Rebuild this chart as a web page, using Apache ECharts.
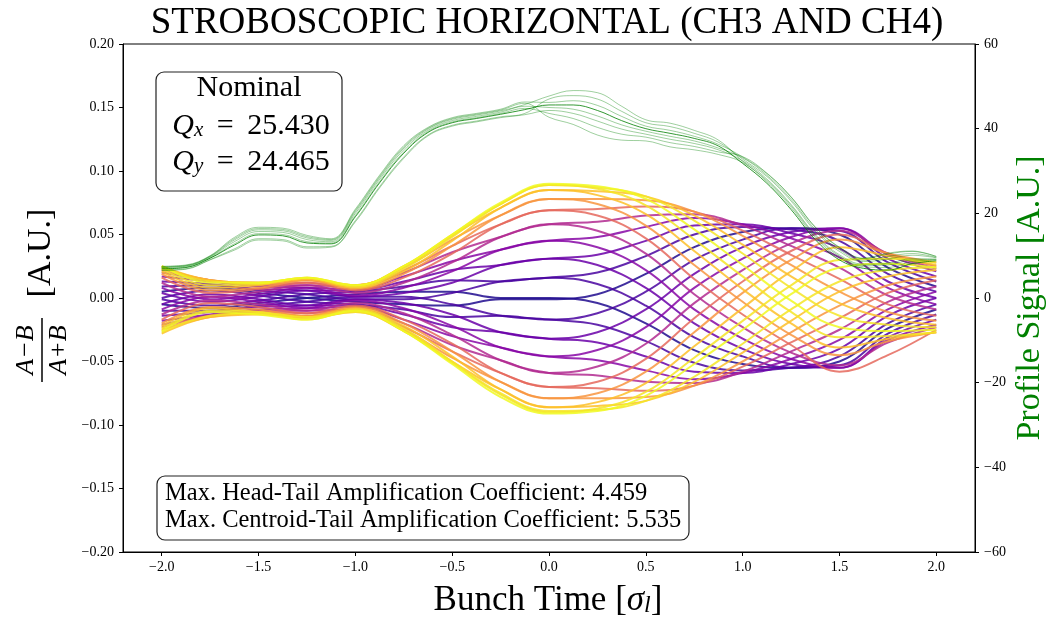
<!DOCTYPE html>
<html><head><meta charset="utf-8">
<script src="https://cdn.jsdelivr.net/npm/echarts@6/dist/echarts.min.js"></script>
<style>html,body{margin:0;padding:0;background:#fff}#c{width:1047px;height:617px}</style>
</head><body><div id="c"></div>
<script>
// ---------- data ----------
const bunchTime = [-2, -1.75, -1.5, -1.25, -1, -0.75, -0.5, -0.25, 0, 0.25, 0.5, 0.75, 1, 1.25, 1.5, 1.75, 2];
const profileTime = [-2,-1.875,-1.75,-1.625,-1.5,-1.375,-1.25,-1.125,-1,-0.875,-0.75,-0.625,-0.5,-0.375,-0.25,-0.125,0,0.125,0.25,0.375,0.5,0.625,0.75,0.875,1,1.125,1.25,1.375,1.5,1.625,1.75,1.875,2];
const xTickValues = [-2, -1.5, -1, -0.5, 0, 0.5, 1, 1.5, 2];
const leftTickRange = [-0.2, 0.2, 0.05];
const rightTickRange = [-60, 60, 20];

// stroboscopic head-tail traces (A-B)/(A+B)
const traces = [
  [-0.005,-0.008,-0.004,0.000,0.003,0.005,0.005,0.000,0.000,-0.004,-0.020,-0.041,-0.052,-0.055,-0.050,-0.024,-0.009],
  [0.005,0.008,0.004,0.000,-0.003,-0.005,-0.006,-0.001,-0.001,0.003,0.019,0.040,0.052,0.055,0.050,0.024,0.009],
  [-0.001,-0.006,-0.002,0.003,0.005,0.009,0.014,0.013,0.016,0.011,-0.006,-0.031,-0.046,-0.055,-0.053,-0.028,-0.013],
  [0.009,0.010,0.006,0.003,-0.001,-0.001,0.004,0.013,0.016,0.020,0.033,0.050,0.056,0.054,0.045,0.019,0.005],
  [0.000,0.006,0.002,-0.003,-0.005,-0.009,-0.015,-0.014,-0.017,-0.012,0.005,0.030,0.046,0.055,0.053,0.028,0.013],
  [-0.010,-0.010,-0.006,-0.003,0.001,0.001,-0.005,-0.014,-0.017,-0.021,-0.034,-0.051,-0.057,-0.055,-0.046,-0.020,-0.005],
  [0.004,-0.003,0.001,0.006,0.006,0.013,0.022,0.026,0.031,0.026,0.008,-0.020,-0.040,-0.052,-0.055,-0.031,-0.017],
  [0.013,0.011,0.007,0.006,0.001,0.004,0.012,0.026,0.031,0.034,0.045,0.057,0.058,0.051,0.039,0.013,0.000],
  [-0.005,0.003,-0.001,-0.006,-0.006,-0.013,-0.023,-0.027,-0.032,-0.027,-0.009,0.019,0.040,0.052,0.055,0.031,0.017],
  [-0.014,-0.011,-0.007,-0.006,-0.001,-0.004,-0.013,-0.027,-0.032,-0.035,-0.046,-0.058,-0.059,-0.052,-0.040,-0.014,0.000],
  [0.008,-0.001,0.003,0.008,0.007,0.017,0.029,0.038,0.045,0.040,0.022,-0.009,-0.032,-0.048,-0.055,-0.033,-0.021],
  [0.017,0.013,0.009,0.008,0.002,0.008,0.021,0.038,0.045,0.048,0.056,0.063,0.058,0.047,0.032,0.008,-0.005],
  [-0.009,0.001,-0.003,-0.008,-0.007,-0.017,-0.030,-0.039,-0.046,-0.041,-0.023,0.008,0.031,0.048,0.055,0.034,0.021],
  [-0.018,-0.013,-0.009,-0.008,-0.002,-0.008,-0.022,-0.039,-0.046,-0.049,-0.057,-0.064,-0.059,-0.048,-0.033,-0.009,0.005],
  [0.012,0.001,0.005,0.010,0.009,0.020,0.036,0.048,0.058,0.053,0.035,0.003,-0.023,-0.043,-0.053,-0.035,-0.023],
  [0.020,0.014,0.010,0.010,0.004,0.012,0.028,0.048,0.058,0.060,0.065,0.066,0.057,0.041,0.024,0.002,-0.009],
  [-0.013,-0.002,-0.005,-0.010,-0.009,-0.020,-0.037,-0.049,-0.059,-0.054,-0.036,-0.004,0.022,0.043,0.053,0.035,0.023],
  [-0.021,-0.014,-0.010,-0.010,-0.004,-0.012,-0.029,-0.049,-0.059,-0.061,-0.066,-0.067,-0.058,-0.042,-0.025,-0.003,0.009],
  [0.016,0.004,0.007,0.012,0.009,0.022,0.041,0.058,0.069,0.065,0.047,0.015,-0.013,-0.037,-0.058,-0.045,-0.025],
  [0.022,0.014,0.011,0.012,0.006,0.016,0.035,0.058,0.069,0.070,0.072,0.068,0.053,0.034,0.015,-0.005,-0.014],
  [-0.017,-0.004,-0.007,-0.012,-0.009,-0.023,-0.042,-0.059,-0.070,-0.066,-0.048,-0.016,0.013,0.037,0.050,0.035,0.025],
  [-0.023,-0.014,-0.011,-0.012,-0.006,-0.017,-0.036,-0.059,-0.070,-0.071,-0.073,-0.069,-0.054,-0.035,-0.016,0.004,0.014],
  [0.019,0.006,0.008,0.014,0.010,0.024,0.046,0.065,0.078,0.074,0.057,0.026,-0.003,-0.029,-0.045,-0.034,-0.027],
  [0.024,0.014,0.012,0.014,0.007,0.019,0.041,0.065,0.078,0.078,0.077,0.068,0.049,0.026,0.005,-0.011,-0.018],
  [-0.020,-0.007,-0.009,-0.014,-0.010,-0.025,-0.047,-0.066,-0.079,-0.075,-0.058,-0.027,0.004,0.030,0.046,0.035,0.028],
  [-0.025,-0.015,-0.012,-0.014,-0.007,-0.020,-0.042,-0.066,-0.079,-0.079,-0.078,-0.069,-0.050,-0.027,-0.006,0.010,0.017],
  [0.021,0.008,0.010,0.015,0.010,0.025,0.049,0.071,0.085,0.081,0.066,0.037,0.007,-0.020,-0.039,-0.032,-0.027],
  [0.025,0.014,0.012,0.015,0.008,0.021,0.045,0.071,0.085,0.084,0.080,0.065,0.042,0.017,-0.004,-0.016,-0.021],
  [-0.022,-0.008,-0.011,-0.016,-0.011,-0.026,-0.050,-0.072,-0.086,-0.082,-0.067,-0.038,-0.008,0.021,0.040,0.033,0.026],
  [-0.028,-0.015,-0.013,-0.015,-0.008,-0.022,-0.046,-0.072,-0.086,-0.085,-0.081,-0.066,-0.043,-0.018,0.005,0.017,0.022],
  [0.023,0.010,0.011,0.016,0.010,0.025,0.050,0.074,0.089,0.086,0.073,0.046,0.017,-0.011,-0.031,-0.030,-0.027],
  [0.025,0.013,0.012,0.016,0.009,0.023,0.048,0.074,0.089,0.087,0.080,0.061,0.035,0.008,-0.014,-0.021,-0.023],
  [-0.024,-0.010,-0.011,-0.015,-0.011,-0.026,-0.051,-0.076,-0.090,-0.087,-0.074,-0.047,-0.018,0.010,0.030,0.031,0.028],
  [-0.027,-0.014,-0.012,-0.017,-0.009,-0.024,-0.050,-0.075,-0.089,-0.088,-0.081,-0.062,-0.036,-0.009,0.013,0.022,0.024],
  [0.025,0.012,0.012,0.016,0.010,0.025,0.050,0.075,0.090,0.088,0.078,0.054,0.026,-0.002,-0.023,-0.026,-0.025],
  [-0.026,-0.011,-0.013,-0.017,-0.010,-0.026,-0.052,-0.078,-0.091,-0.089,-0.077,-0.052,-0.025,0.003,0.024,0.027,0.024]
];

// longitudinal profile signal (right axis)
const profiles = [
  [7.3,7.6,9.8,13.7,16.1,15.9,14.2,13.6,20.4,28.4,35.4,39.9,42.2,43.2,44.2,45.7,47.7,49.0,48.5,45.3,42.1,41.3,39.6,37.3,32.3,27.8,21.8,14.7,9.9,7.7,7.8,9.0,9.1],
  [6.6,6.9,9.1,11.6,14.0,13.8,12.1,12.2,18.3,26.3,33.3,38.5,40.8,41.8,42.8,43.6,47.0,47.8,47.0,44.1,41.4,40.5,38.9,36.8,32.8,28.7,22.9,15.8,11.0,8.6,9.2,10.1,9.5],
  [7.5,7.8,10.0,14.3,16.7,16.5,14.8,14.0,21.0,29.0,36.0,40.3,42.6,43.6,44.6,46.3,46.2,46.6,45.5,42.9,40.6,39.6,38.2,36.3,33.3,29.4,23.8,16.7,11.9,9.3,10.4,11.0,9.8],
  [6.9,7.2,9.4,12.5,14.9,14.7,13.0,12.8,19.2,27.2,34.2,39.1,41.4,42.4,43.4,44.5,45.6,45.6,44.3,41.9,40.0,38.9,37.7,35.9,31.8,27.1,20.9,13.8,9.0,7.0,6.6,8.1,8.8],
  [7.2,7.5,9.7,13.3,15.7,15.5,13.8,13.3,20.0,28.0,35.0,39.6,41.9,42.9,43.9,45.3,45.0,44.6,43.0,40.9,39.4,38.2,37.1,35.4,33.1,29.0,23.3,16.2,11.4,8.9,9.8,10.5,9.6],
  [6.5,6.8,9.0,11.3,13.7,13.5,11.8,12.0,18.0,26.0,33.0,38.3,40.6,41.6,42.6,43.3,44.3,43.6,41.8,39.9,38.7,37.5,36.5,35.0,32.4,28.1,22.1,15.0,10.2,8.0,8.2,9.3,9.2],
  [7.0,7.3,9.5,12.8,15.2,15.0,13.3,13.0,19.5,27.5,34.5,39.3,41.6,42.6,43.6,44.8,43.6,42.4,40.3,38.7,38.0,36.7,35.8,34.5,33.4,29.5,23.9,16.8,12.0,9.4,10.6,11.1,9.8],
  [7.4,7.7,9.9,14.0,16.4,16.2,14.5,13.8,20.7,28.7,35.7,40.1,42.4,43.4,44.4,46.0,42.7,41.0,38.5,37.3,37.1,35.7,35.0,33.9,32.0,27.5,21.4,14.3,9.5,7.4,7.2,8.6,9.0]
];

// ---------- styles ----------
const traceColors = [
  '#200a8e','#200a8e',
  '#4903a0','#4903a0','#4903a0','#4903a0',
  '#6a00a8','#6a00a8','#6a00a8','#6a00a8',
  '#8707a6','#8707a6','#8707a6','#8707a6',
  '#b12a90','#b12a90','#b12a90','#b12a90',
  '#e5695d','#e5695d','#e5695d','#e5695d',
  '#f89540','#f89540','#f89540','#f89540',
  '#fdc029','#fdc029','#fdc029','#fdc029',
  '#f5e526','#f5e526','#f5e526','#f5e526',
  '#f0f921','#f0f921'
];
const profileOpacity = [0.38,0.38,0.38,0.8,0.38,0.38,0.38,0.38];
const FONT = "'Liberation Serif', 'Times New Roman', serif";
const minus = s => s.replace('-', '\u2212');

const chart = echarts.init(document.getElementById('c'), null, {renderer: 'canvas'});
const series = [];
traces.forEach((vals, k) => {
  series.push({
    type: 'line', xAxisIndex: 0, yAxisIndex: 0,
    data: bunchTime.map((t, i) => [t, vals[i]]),
    showSymbol: false, smooth: 0.4, silent: true, z: 2,
    lineStyle: {color: traceColors[k], width: 2, opacity: 0.85}
  });
});
profiles.forEach((vals, k) => {
  series.push({
    type: 'line', xAxisIndex: 0, yAxisIndex: 1,
    data: profileTime.map((t, i) => [t, vals[i]]),
    showSymbol: false, smooth: 0.4, silent: true, z: 3,
    lineStyle: {color: '#008000', width: 1, opacity: profileOpacity[k]}
  });
});

const axisCommon = {
  axisLine: {show: true, onZero: false, lineStyle: {color: '#000', width: 1}},
  axisTick: {show: true, length: 4, lineStyle: {color: '#000', width: 1}},
  splitLine: {show: false},
};

const richQ = {
  q: {font: 'italic 30px ' + FONT, fill: '#000', lineHeight: 34, verticalAlign: 'bottom'},
  s: {font: 'italic 21px ' + FONT, fill: '#000', lineHeight: 22, verticalAlign: 'bottom'},
  n: {font: '30px ' + FONT, fill: '#000', lineHeight: 34, verticalAlign: 'bottom'}
};

chart.setOption({
  animation: false,
  backgroundColor: '#fff',
  grid: {left: 123, right: 72, top: 44, bottom: 65, show: true, borderColor: '#000', borderWidth: 1, backgroundColor: 'transparent'},
  xAxis: [{
    type: 'value', min: -2.2, max: 2.2, ...axisCommon,
    axisTick: {show: true, length: 4, lineStyle: {color: '#000'}, customValues: xTickValues},
    axisLabel: {customValues: xTickValues, color: '#000', fontFamily: FONT, fontSize: 14, margin: 8,
      formatter: v => minus(Number(v).toFixed(1))}
  }],
  yAxis: [{
    type: 'value', position: 'left', min: leftTickRange[0], max: leftTickRange[1], interval: leftTickRange[2], ...axisCommon,
    axisLabel: {color: '#000', fontFamily: FONT, fontSize: 14, margin: 9, formatter: v => minus(Number(v).toFixed(2))}
  }, {
    type: 'value', position: 'right', min: rightTickRange[0], max: rightTickRange[1], interval: rightTickRange[2], ...axisCommon,
    axisLabel: {color: '#000', fontFamily: FONT, fontSize: 14, margin: 9, formatter: v => minus(String(Math.round(v)))}
  }],
  series: series,
  graphic: [
    {type: 'text', x: 547, y: 23, z: 100, style: {text: 'STROBOSCOPIC HORIZONTAL (CH3 AND CH4)', font: '37px ' + FONT, fill: '#000', align: 'center', verticalAlign: 'middle'}},
    // Nominal box
    {type: 'rect', z: 100, shape: {x: 156, y: 72, width: 186, height: 119, r: 8}, style: {fill: '#fff', stroke: '#222', lineWidth: 1.2}},
    {type: 'text', x: 249, y: 88, z: 101, style: {text: 'Nominal', font: '30px ' + FONT, fill: '#000', align: 'center', verticalAlign: 'middle'}},
    {type: 'text', x: 251, y: 124, z: 101, style: {
      text: '{q|Q}{s|x}{n|\u2009 = \u200925.430}', align: 'center', verticalAlign: 'middle', rich: richQ}},
    {type: 'text', x: 251, y: 160, z: 101, style: {
      text: '{q|Q}{s|y}{n|\u2009 = \u200924.465}', align: 'center', verticalAlign: 'middle', rich: richQ}},
    // coefficient box
    {type: 'rect', z: 100, shape: {x: 157, y: 476, width: 532, height: 64, r: 8}, style: {fill: '#fff', stroke: '#222', lineWidth: 1.2}},
    {type: 'text', x: 165, y: 494, z: 101, style: {text: 'Max. Head-Tail Amplification Coefficient: 4.459', font: '24.5px ' + FONT, fill: '#000', align: 'left', verticalAlign: 'middle'}},
    {type: 'text', x: 165, y: 521, z: 101, style: {text: 'Max. Centroid-Tail Amplification Coefficient: 5.535', font: '24.5px ' + FONT, fill: '#000', align: 'left', verticalAlign: 'middle'}},
    // x axis name
    {type: 'text', x: 548, y: 598, z: 101, style: {
      text: '{n|Bunch Time [}{g|\u03c3}{s|l}{n|]}', align: 'center', verticalAlign: 'middle',
      rich: {n: {font: '35px ' + FONT, fill: '#000', lineHeight: 40, verticalAlign: 'bottom'},
             g: {font: 'italic 35px ' + FONT, fill: '#000', lineHeight: 40, verticalAlign: 'bottom'},
             s: {font: 'italic 24px ' + FONT, fill: '#000', lineHeight: 22, verticalAlign: 'bottom'}}}},
    // left axis name (fraction), rotated
    {type: 'group', x: 42, y: 298, rotation: Math.PI / 2, z: 101, children: [
      {type: 'text', x: -52, y: -16, style: {text: 'A\u2212B', font: 'italic 26px ' + FONT, fill: '#000', align: 'center', verticalAlign: 'middle'}},
      {type: 'line', shape: {x1: -84, y1: 0, x2: -20, y2: 0}, style: {stroke: '#000', lineWidth: 1.5}},
      {type: 'text', x: -52, y: 17, style: {text: 'A+B', font: 'italic 26px ' + FONT, fill: '#000', align: 'center', verticalAlign: 'middle'}},
      {type: 'text', x: 45, y: -1, style: {text: '[A.U.]', font: '34px ' + FONT, fill: '#000', align: 'center', verticalAlign: 'middle'}}
    ]},
    // right axis name
    {type: 'text', x: 1030, y: 298, rotation: Math.PI / 2, z: 101, style: {text: 'Profile Signal [A.U.]', font: '34px ' + FONT, fill: '#008000', align: 'center', verticalAlign: 'middle'}}
  ]
});
</script>
</body></html>
